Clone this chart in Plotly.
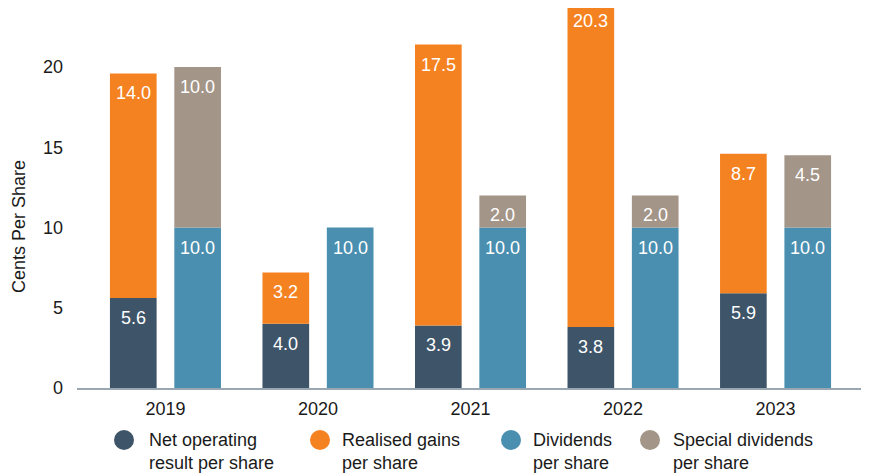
import plotly.graph_objects as go

years = ["2019", "2020", "2021", "2022", "2023"]
net_operating = [5.6, 4.0, 3.9, 3.8, 5.9]
realised_gains = [14.0, 3.2, 17.5, 20.3, 8.7]
dividends = [10.0, 10.0, 10.0, 10.0, 10.0]
special_dividends = [10.0, None, 2.0, 2.0, 4.5]

names = ["Net operating<br>result per share", "Realised gains<br>per share",
         "Dividends<br>per share", "Special dividends<br>per share"]
colors = ["#3e5569", "#f58220", "#4a8fb0", "#a39587"]

FONT = "Liberation Sans, Arial, Helvetica, sans-serif"
BW = 0.306
OFF_L = -0.364
OFF_R = 0.058

# The page body has an 8px default margin, so the figure is drawn 8px in.
OFFS = 8
W, H = 869 - OFFS, 476 - OFFS
ML, MR, MT, MB = 69, 3, 0, 88
PW, PH = W - ML - MR, H - MT - MB
YMAX = PH / 16.05


def px_x(px):
    return (px - OFFS - ML) / PW


def px_y(py):
    return (H - MB - (py - OFFS)) / PH


xi = list(range(len(years)))
fig = go.Figure()


def add_bar(vals, base, off, color):
    fig.add_trace(go.Bar(
        x=xi, y=[v if v is not None else 0 for v in vals], base=base,
        offset=off, width=BW, marker=dict(color=color, line=dict(width=0)),
        showlegend=False, hoverinfo="skip"))


add_bar(net_operating, None, OFF_L, colors[0])
add_bar(realised_gains, net_operating, OFF_L, colors[1])
add_bar(dividends, None, OFF_R, colors[2])
add_bar(special_dividends, dividends, OFF_R, colors[3])

annotations = []
shapes = []


def add_labels(vals, base, off):
    for i, v in enumerate(vals):
        if v is None:
            continue
        b = base[i] if base is not None else 0
        annotations.append(dict(
            x=i + off + BW / 2, y=(b + v) / YMAX, xref="x", yref="paper",
            text=f"{v:.1f}", showarrow=False, yanchor="middle", yshift=-20,
            font=dict(color="white", size=18, family=FONT)))


add_labels(net_operating, None, OFF_L)
add_labels(realised_gains, net_operating, OFF_L)
add_labels(dividends, None, OFF_R)
add_labels(special_dividends, dividends, OFF_R)

annotations.append(dict(
    text="Cents Per Share", textangle=-90, showarrow=False,
    xref="paper", yref="paper", x=px_x(8), y=px_y(227),
    xanchor="left", yanchor="middle", borderpad=0,
    font=dict(size=18, color="#1a1a1a", family=FONT)))

# legend (circle markers + two-line labels)
legend_marker_px = [124, 320, 511, 650]
legend_text_px = [147, 340, 531, 671]
LEG_Y = 440
R = 10
for n, c, mx, tx in zip(names, colors, legend_marker_px, legend_text_px):
    shapes.append(dict(
        type="circle", xref="paper", yref="paper",
        x0=px_x(mx - R), x1=px_x(mx + R), y0=px_y(LEG_Y + R), y1=px_y(LEG_Y - R),
        fillcolor=c, line=dict(width=0)))
    annotations.append(dict(
        text=n, showarrow=False, xref="paper", yref="paper",
        x=px_x(tx), y=px_y(LEG_Y - 12), xanchor="left", yanchor="top",
        align="left", font=dict(size=18, color="#1a1a1a", family=FONT)))

fig.update_layout(
    width=W, height=H,
    margin=dict(l=ML, r=MR, t=MT, b=MB),
    paper_bgcolor="white", plot_bgcolor="white",
    barmode="overlay", showlegend=False,
    font=dict(family=FONT, size=18, color="#1a1a1a"),
    annotations=annotations, shapes=shapes,
    xaxis=dict(
        range=[-0.58, 4.593], tickmode="array", tickvals=xi, ticktext=years,
        showgrid=False, zeroline=False, showline=True, linecolor="#9ba7b0",
        linewidth=2, ticks="", ticklabelstandoff=3, automargin=False,
        tickfont=dict(size=18, family=FONT, color="#1a1a1a")),
    yaxis=dict(
        range=[0, YMAX], tickvals=[0, 5, 10, 15, 20], showgrid=False,
        zeroline=False, showline=False, ticks="", ticklabelstandoff=13,
        automargin=False,
        tickfont=dict(size=18, family=FONT, color="#1a1a1a")),
)

fig.write_html("out.html")
